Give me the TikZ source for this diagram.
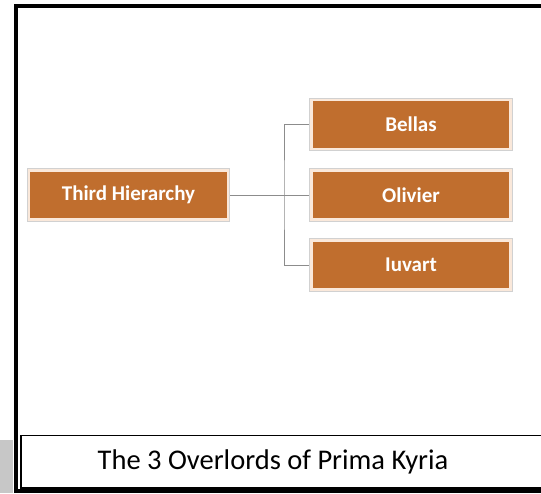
\documentclass[tikz,border=0pt]{standalone}
\usepackage{fontspec}
\setmainfont{Carlito}
\usetikzlibrary{backgrounds}
\definecolor{rustbrown}{RGB}{192,110,46}
\definecolor{palerim}{RGB}{250,232,218}
\begin{document}
\begin{tikzpicture}[x = 1pt, y = -1pt,
	lord/.style = {fill = rustbrown, draw = palerim, line width = 2.5pt,
		preaction = {draw = black!18, line width = 4.5pt},
		minimum width = 199pt, minimum height = 49pt, inner sep = 0pt,
		text = white, font = \bfseries\fontsize{21}{24}\selectfont},
	link/.style = {draw = black!45, line width = 0.8pt}]
	\useasboundingbox (0,0) rectangle (541,493);
	\fill [black!22] (0,440) rectangle (13,493);
	% outer frame and caption strip
	\draw [line width = 4pt] (15.5,6) rectangle (548,491);
	\draw [line width = 1.5pt] (21,435.5) rectangle (548,488);
	\node (caption) at (273,462) {\fontsize{28.5}{32}\selectfont The 3 Overlords of Prima Kyria};
	% the boxes
	\node [lord] (third) at (128.5,195) {Third Hierarchy};
	\node [lord] (bellas) at (411,124.5) {Bellas};
	\node [lord] (olivier) at (411,195) {Olivier};
	\node [lord] (iuvart) at (411,265) {Iuvart};
	\coordinate (fork) at (284,195);
	\begin{scope}[on background layer]
		\draw [link] (third.east) -- (olivier.west);
		\draw [link] (bellas.west) -| (fork) |- (iuvart.west);
	\end{scope}
\end{tikzpicture}
\end{document}
